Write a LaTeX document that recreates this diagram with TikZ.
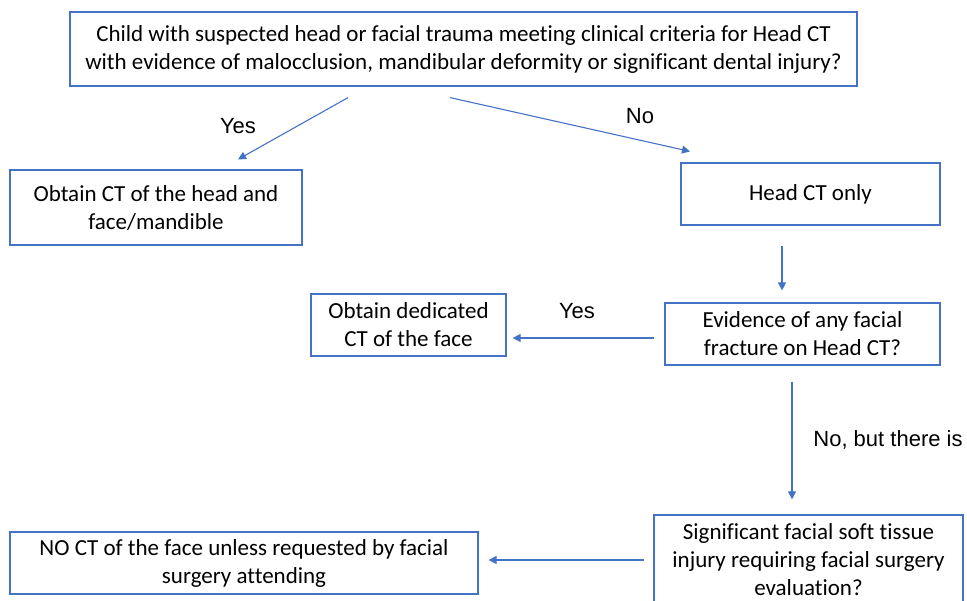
\documentclass[tikz,border=0pt]{standalone}
\usepackage{fontspec}
\setmainfont{Carlito}[Ligatures=CommonOff]
\newfontfamily\arialfont{Liberation Sans}
\usetikzlibrary{arrows.meta,calc}
\definecolor{boxblue}{RGB}{68,114,196}
\tikzset{
  box/.style={draw=boxblue, line width=0.6pt, align=center, inner sep=0pt,
    font=\fontsize{11.5}{14}\selectfont},
  arr/.style={draw=boxblue, line width=0.55pt, -{Triangle[width=4pt,length=4pt]}},
  lbl/.style={font=\arialfont\fontsize{11}{13}\selectfont, inner sep=0pt}
}

\begin{document}
\begin{tikzpicture}[x=0.5pt,y=-0.5pt]
\useasboundingbox (0,0) rectangle (967,600);

\node[box, minimum width=393.5pt, minimum height=37pt] (crit) at (463.5,49)
  {Child with suspected head or facial trauma meeting clinical criteria for Head CT\\
   with evidence of malocclusion, mandibular deformity or significant dental injury?};
\node[box, minimum width=146pt, minimum height=37.5pt] (headface) at (156,207.5)
  {Obtain CT of the head and\\face/mandible};
\node[box, minimum width=129.5pt, minimum height=31pt] (headonly) at (810.5,194)
  {Head CT only};
\node[box, minimum width=137.5pt, minimum height=31pt] (fracture) at (802.5,334)
  {Evidence of any facial\\fracture on Head CT?};
\node[box, minimum width=97.5pt, minimum height=31pt] (dedicated) at (408.5,325)
  {Obtain dedicated\\CT of the face};
\node[box, minimum width=154.5pt, minimum height=45pt] (softtissue) at (808.5,560)
  {Significant facial soft tissue\\injury requiring facial surgery\\evaluation?};
\node[box, minimum width=234pt, minimum height=31pt] (noct) at (244,563)
  {NO CT of the face unless requested by facial\\surgery attending};

\draw[arr] ($(crit.south)+(-115.5,11)$) -- ($(headface.north)+(82,-10)$);
\draw[arr] ($(crit.south)+(-13.5,11)$) -- ($(headonly.north)+(-120.5,-11)$);
\draw[arr] ($(headonly.south)+(-28.5,20)$) -- ($(fracture.north)+(-20.5,-12)$);
\draw[arr] ($(fracture.west)+(-10,4)$) -- ($(dedicated.east)+(6,13)$);
\draw[arr] ($(fracture.south)+(-10.5,16)$) -- ($(softtissue.north)+(-16.5,-15)$);
\draw[arr] ($(softtissue.west)+(-9,0)$) -- ($(noct.east)+(10,-3)$);

\node[lbl] (yesleft) at (238,126) {Yes};
\node[lbl] (noright) at (640,116) {No};
\node[lbl] (yesface) at (577,311) {Yes};
\node[lbl] (nobut) at (888,440) {No, but there is};
\end{tikzpicture}
\end{document}
